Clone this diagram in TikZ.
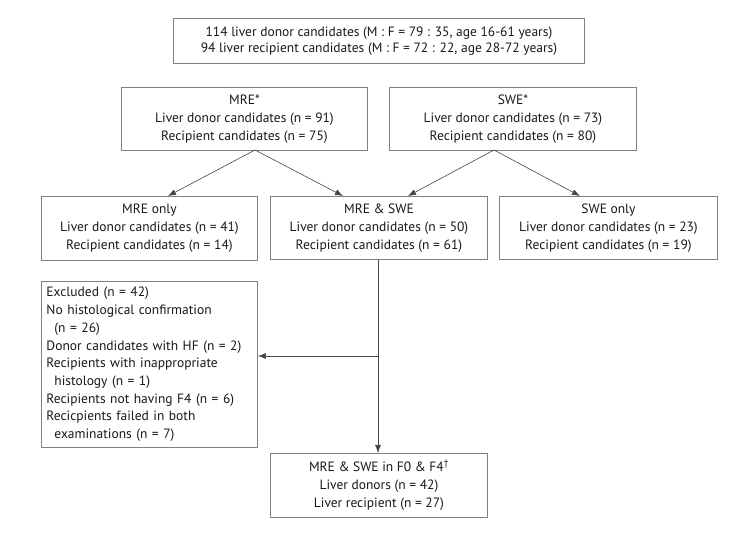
\documentclass[tikz,border=0pt]{standalone}
\usepackage{fontspec}
\setmainfont{PT Sans}
\usetikzlibrary{arrows.meta,calc}
\definecolor{boxgray}{RGB}{128,128,128}
\definecolor{linegray}{RGB}{70,70,70}
\definecolor{txt}{RGB}{25,25,25}
\begin{document}
\begin{tikzpicture}[x=1pt,y=-1pt,
  box/.style={draw=boxgray,line width=0.9pt,inner sep=0pt,align=center,text=txt,
    font=\fontsize{13.5}{18}\selectfont,anchor=north west},
  conn/.style={draw=linegray,line width=0.6pt,-{Latex[length=8pt,width=6pt]}},
  plain/.style={draw=linegray,line width=0.6pt}]
\useasboundingbox[fill=white] (0,0) rectangle (753,537);
\node[box,minimum width=411pt,minimum height=45pt,font=\fontsize{13.5}{16.5}\selectfont] (top) at (173,18)
  {114 liver donor candidates (M : F = 79 : 35, age 16-61 years)\\94 liver recipient candidates (M : F = 72 : 22, age 28-72 years)};
\node[box,minimum width=246pt,minimum height=63pt] (mre) at (121,87)
  {MRE*\\Liver donor candidates (n = 91)\\Recipient candidates (n = 75)};
\node[box,minimum width=247pt,minimum height=63pt] (swe) at (389,87)
  {SWE*\\Liver donor candidates (n = 73)\\Recipient candidates (n = 80)};
\node[box,minimum width=216pt,minimum height=64pt] (mreonly) at (41,196)
  {MRE only\\Liver donor candidates (n = 41)\\Recipient candidates (n = 14)};
\node[box,minimum width=217pt,minimum height=63pt] (both) at (270,196)
  {MRE \& SWE\\Liver donor candidates (n = 50)\\Recipient candidates (n = 61)};
\node[box,minimum width=218pt,minimum height=63pt] (sweonly) at (499,196)
  {SWE only\\Liver donor candidates (n = 23)\\Recipient candidates (n = 19)};
\node[box,minimum width=216pt,minimum height=166pt,align=left,text width=206pt,inner xsep=5pt,font=\fontsize{13.5}{17.7}\selectfont] (excl) at (41,281)
  {Excluded (n = 42)\\No histological confirmation\\\hspace*{8pt}(n = 26)\\Donor candidates with HF (n = 2)\\Recipients with inappropriate\\\hspace*{8pt}histology (n = 1)\\Recipients not having F4 (n = 6)\\Recicpients failed in both\\\hspace*{8pt}examinations (n = 7)};
\node[box,minimum width=217pt,minimum height=64pt] (final) at (270,453)
  {MRE \& SWE in F0 \& F4\textsuperscript{\textdagger}\\Liver donors (n = 42)\\Liver recipient (n = 27)};
\coordinate (mreA) at (255,150);
\coordinate (sweA) at (494,150);
\coordinate (t1) at (168,196);
\coordinate (t2) at (343,196);
\coordinate (t3) at (408,196);
\coordinate (t4) at (580,196);
\coordinate (split) at (378,356);
\draw[conn] (mreA) -- (t1);
\draw[conn] (mreA) -- (t2);
\draw[conn] (sweA) -- (t3);
\draw[conn] (sweA) -- (t4);
\draw[conn] (both.south -| split) -- (final.north -| split);
\draw[conn] (split) -- (excl.east |- split);
\end{tikzpicture}
\end{document}
